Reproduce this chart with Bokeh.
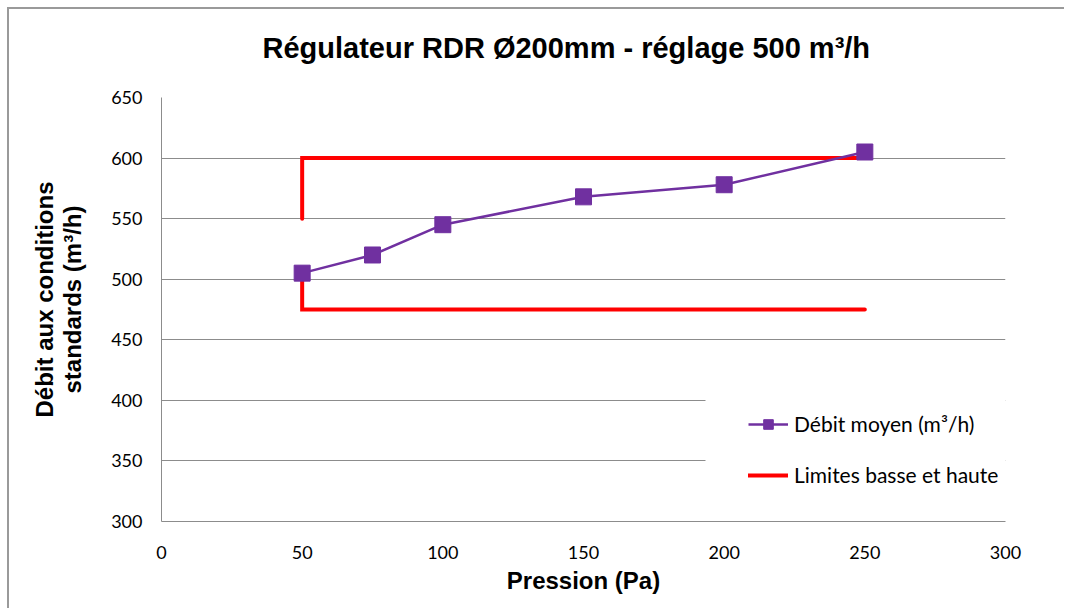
from bokeh.plotting import figure
from bokeh.models import (Range1d, FixedTicker, Legend, LegendItem,
                          BoxAnnotation)
from bokeh.embed import file_html
from bokeh.resources import INLINE
import numpy as np

# Measured mean flow for each pressure step
pression = [50, 75, 100, 150, 200, 250]
debit_moyen = [505, 520, 545, 568, 578, 605]

# Lower / upper tolerance limits (two L-shaped segments)
limite_haute_x = [50, 50, 250]
limite_haute_y = [550, 600, 600]
limite_basse_x = [50, 50, 250]
limite_basse_y = [500, 475, 475]

x_ticks = [0, 50, 100, 150, 200, 250, 300]
y_ticks = [300, 350, 400, 450, 500, 550, 600, 650]

title_text = "Régulateur RDR Ø200mm - réglage 500 m³/h"
x_title = "Pression (Pa)"
y_title_lines = ["Débit aux conditions", "standards (m³/h)"]
serie_label = "Débit moyen (m³/h)"
limites_label = "Limites basse et haute"

GRID = "#8c8c8c"
PURPLE = "#7030A0"
RED = "#FF0000"

p = figure(width=1057, height=601, output_backend="svg", toolbar_location=None,
           x_range=Range1d(0, 300), y_range=Range1d(300, 650),
           min_border_left=152, min_border_right=61,
           min_border_top=88, min_border_bottom=89)
p.margin = (7, 0, 0, 7)
p.styles = {"border-top": "2px solid #9a9a9a", "border-left": "2px solid #9a9a9a"}
p.outline_line_color = None
p.background_fill_color = "white"
p.border_fill_color = "white"

# chart title (the empty second line reserves room so the title sits higher)
p.title.text = title_text + "\n"
p.title.align = "left"
p.title.offset = 101
p.title.vertical_align = "top"
p.title.text_font = "Liberation Sans"
p.title.text_font_style = "bold"
p.title.text_font_size = "29px"
p.title.text_color = "black"
p.title.standoff = 0

# grid
p.xgrid.grid_line_color = None
p.ygrid.grid_line_color = GRID
p.ygrid.grid_line_width = 1
p.ygrid.ticker = FixedTicker(ticks=y_ticks)

# axes
for ax in (p.xaxis[0], p.yaxis[0]):
    ax.axis_line_color = GRID
    ax.axis_line_width = 1
    ax.major_tick_line_color = None
    ax.minor_tick_line_color = None
    ax.major_label_text_font = "Lato"
    ax.major_label_text_font_size = "18px"
    ax.major_label_text_color = "black"
    ax.axis_label_text_font = "Liberation Sans"
    ax.axis_label_text_font_style = "bold"
    ax.axis_label_text_font_size = "24px"
    ax.axis_label_text_color = "black"
    ax.axis_label_text_line_height = 1.05

p.xaxis.ticker = FixedTicker(ticks=x_ticks)
p.yaxis.ticker = FixedTicker(ticks=y_ticks)
p.xaxis.major_label_standoff = 18
p.yaxis.major_label_standoff = 13
p.xaxis.axis_label = x_title
# leading no-break spaces nudge the centred rotated label slightly upwards
pad = "\u00a0" * 3
p.yaxis.axis_label = "\n".join(pad + line for line in y_title_lines)
p.xaxis.axis_label_standoff = 5
p.yaxis.axis_label_standoff = 22

# white patch behind the legend hides the gridlines there
legend_bg = BoxAnnotation(left=(705 - 161) / (844 / 300), right=300,
                          bottom=301, top=401.5,
                          fill_color="white", fill_alpha=1.0,
                          line_color=None, level="underlay")
p.add_layout(legend_bg)

# limits
lim_x = limite_haute_x + [np.nan] + limite_basse_x
lim_y = limite_haute_y + [np.nan] + limite_basse_y
r_lim = p.line(lim_x, lim_y, line_color=RED, line_width=4,
               line_join="miter", line_cap="round")

# measured series
r_line = p.line(pression, debit_moyen, line_color=PURPLE, line_width=2.5)
r_pts = p.scatter(pression, debit_moyen, marker="square", size=16,
                  fill_color=PURPLE, line_color=PURPLE)

legend = Legend(items=[LegendItem(label=serie_label, renderers=[r_line, r_pts]),
                       LegendItem(label=limites_label, renderers=[r_lim])],
                location=(587, 34), orientation="vertical")
legend.border_line_color = None
legend.background_fill_alpha = 0.0
legend.label_text_font = "Lato"
legend.label_text_font_size = "21px"
legend.label_text_color = "black"
legend.glyph_width = 40
legend.glyph_height = 24
legend.label_height = 24
legend.spacing = 26
legend.padding = 10
legend.margin = 0
legend.label_standoff = 6
p.add_layout(legend)

open("out.html", "w").write(file_html(p, INLINE))
